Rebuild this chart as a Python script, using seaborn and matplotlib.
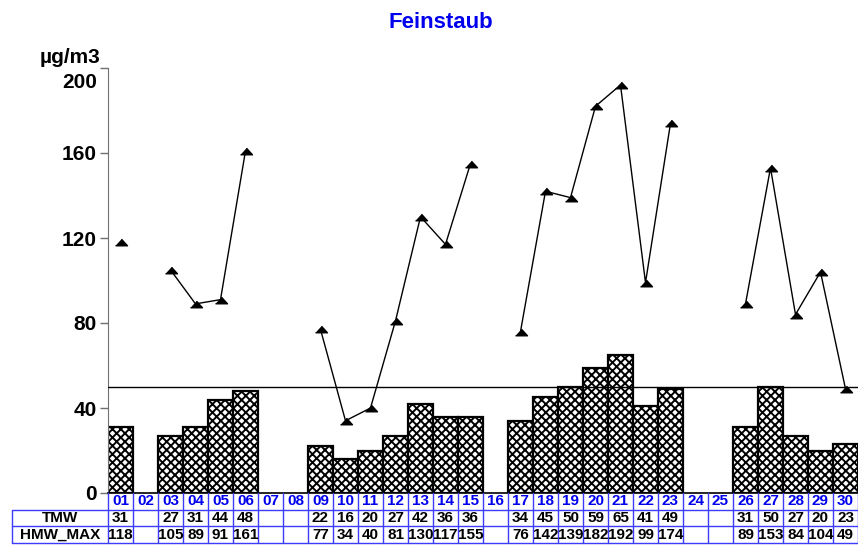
import numpy as np
import pandas as pd
import matplotlib
matplotlib.use('Agg')
import matplotlib.pyplot as plt
import matplotlib.transforms as mtransforms
import seaborn as sns

# Daily values, NaN = no measurement
days = ['%02d' % d for d in range(1, 31)]
tmw = [31, np.nan, 27, 31, 44, 48, np.nan, np.nan, 22, 16, 20, 27, 42, 36, 36,
       np.nan, 34, 45, 50, 59, 65, 41, 49, np.nan, np.nan, 31, 50, 27, 20, 23]
hmw_max = [118, np.nan, 105, 89, 91, 161, np.nan, np.nan, 77, 34, 40, 81, 130, 117, 155,
           np.nan, 76, 142, 139, 182, 192, 99, 174, np.nan, np.nan, 89, 153, 84, 104, 49]
limit = 50
yticks = [0, 40, 80, 120, 160, 200]
row_labels = ['TMW', 'HMW_MAX']

df = pd.DataFrame({'day': days, 'TMW': tmw, 'HMW_MAX': hmw_max})

sns.set_style('ticks')
plt.rcParams['font.family'] = ['Liberation Sans', 'DejaVu Sans']
plt.rcParams['font.weight'] = 'bold'
plt.rcParams['text.color'] = 'black'
plt.rcParams['ytick.labelcolor'] = 'black'
plt.rcParams['hatch.linewidth'] = 1.4

W, H = 858, 548
fig = plt.figure(figsize=(W / 100, H / 100), dpi=100)
ax = fig.add_axes([108 / W, 55 / H, 750 / W, 425 / H])

# bars for the daily mean
sns.barplot(data=df, x='day', y='TMW', order=days, color='white', edgecolor='black',
            linewidth=1.6, width=1, hatch='xxxx', errorbar=None, ax=ax)
for p in ax.patches:
    p.set_facecolor('white')

# line for the daily max half-hour mean
tri = [(-1, -0.55), (1, -0.55), (0, 0.55)]
ax.plot(np.arange(len(days)), df['HMW_MAX'], color='black', lw=1, marker=tri,
        ms=8.6, mfc='black', mec='black', clip_on=False, zorder=5)

ax.axhline(limit, color='black', lw=1, zorder=4)

ax.set_xlim(-0.5, len(days) - 0.5)
ax.set_ylim(0, 200)
ax.set_yticks(yticks)
ax.set_yticklabels([str(t) for t in yticks], fontsize=15, fontweight='bold', color='black')
ax.tick_params(axis='y', length=6, width=1, color='#707070', pad=2)
ax.set_xticks([])
ax.set_xlabel('')
ax.set_ylabel('')
sns.despine(ax=ax, top=True, right=True)
ax.spines['left'].set_color('#707070')
ax.spines['bottom'].set_color('black')
ax.spines['bottom'].set_linewidth(1.2)

# top label sits below its tick
lab = ax.get_yticklabels()[-1]
lab.set_transform(lab.get_transform() + mtransforms.ScaledTranslation(0, -13 / 100, fig.dpi_scale_trans))

fig.text(100 / W, 1 - 63 / H, 'µg/m3', ha='right', va='baseline', fontsize=15, fontweight='bold')
fig.text(441 / W, 1 - 22 / H, 'Feinstaub', ha='center', va='center', fontsize=16,
         fontweight='bold', color='#0000ee')

# table below the chart
tab = fig.add_axes([108 / W, 5 / H, 750 / W, 50 / H], sharex=ax)
tab.set_ylim(3, 0)
tab.axis('off')
blue = '#3c3cff'
left = -0.5 - 96 / 25
n = len(days)
for y in [1, 2, 3]:
    tab.plot([left, n - 0.5], [y, y], color=blue, lw=1, clip_on=False)
for k in range(n + 1):
    tab.plot([k - 0.5, k - 0.5], [0, 3], color=blue, lw=1, clip_on=False)
tab.plot([left, left], [1, 3], color=blue, lw=1, clip_on=False)

for i, d in enumerate(days):
    tab.text(i, 0.5, d, ha='center', va='center', fontsize=11, fontweight='bold', color='#0000ee')
    for r, col in enumerate(row_labels):
        v = df[col][i]
        if not np.isnan(v):
            tab.text(i, 1.5 + r, '%d' % v, ha='center', va='center', fontsize=11, fontweight='bold')
for r, col in enumerate(row_labels):
    tab.text((left - 0.5) / 2, 1.5 + r, col, ha='center', va='center', fontsize=11,
             fontweight='bold', clip_on=False)

fig.savefig('out.png', dpi=100)
